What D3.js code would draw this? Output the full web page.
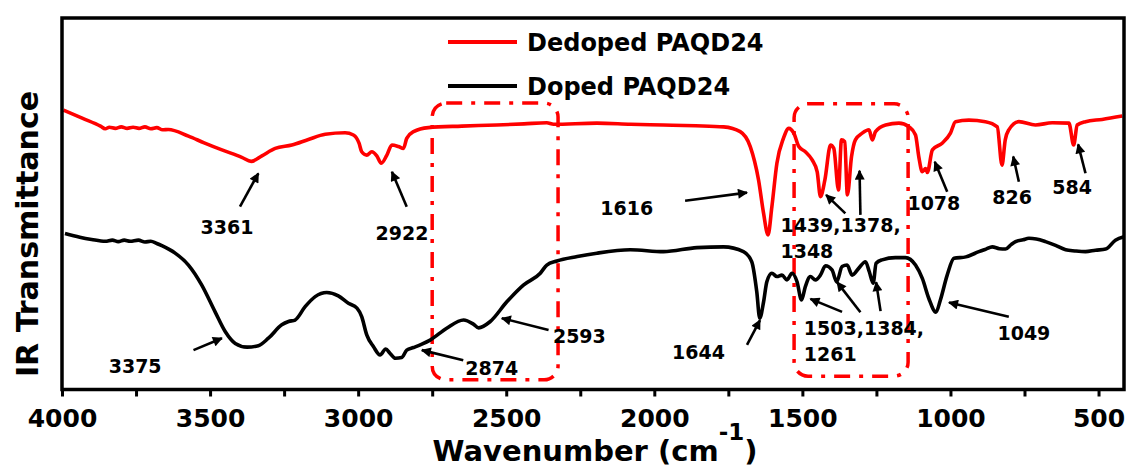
<!DOCTYPE html>
<html>
<head>
<meta charset="utf-8">
<script src="https://cdn.jsdelivr.net/npm/d3@7/dist/d3.min.js"></script>
<style>
  html, body { margin: 0; padding: 0; background: #fff; }
  svg { display: block; font-family: "DejaVu Sans", Verdana, sans-serif; font-weight: bold; }
</style>
</head>
<body>
<svg id="chart" width="1127" height="471"></svg>
<script>
// FTIR spectra: [wavenumber (cm-1), transmittance (a.u.)]
const dedoped = [
  [3995,75.2],[3930,73.0],[3870,70.9],[3854,70.2],[3840,70.6],[3820,70.3],[3800,70.7],[3780,70.3],
  [3760,70.6],[3740,70.3],[3720,70.7],[3700,70.2],[3680,70.5],[3660,69.9],[3641,70.0],[3573,68.2],
  [3520,66.4],[3460,64.5],[3393,62.5],[3361,61.4],[3325,62.9],[3280,64.9],[3224,65.8],[3168,67.3],
  [3111,68.7],[3044,69.1],[3016,68.5],[2997,66.3],[2988,64.0],[2971,63.1],[2954,64.0],[2937,62.9],
  [2922,60.9],[2903,63.1],[2886,65.8],[2864,65.4],[2847,64.9],[2836,67.6],[2813,69.4],[2763,70.5],
  [2650,70.9],[2532,71.2],[2440,71.5],[2363,71.8],[2340,71.4],[2194,71.7],[2080,71.4],[1969,71.2],
  [1860,71.0],[1766,70.7],[1710,69.4],[1676,65.4],[1648,56.4],[1631,47.4],[1616,41.6],[1603,49.2],
  [1586,60.9],[1564,67.6],[1546,70.3],[1529,69.0],[1512,65.4],[1490,64.0],[1467,61.8],[1450,58.6],
  [1439,51.9],[1424,56.4],[1405,65.8],[1394,64.9],[1378,53.7],[1368,67.2],[1357,66.7],[1348,52.4],
  [1334,62.7],[1321,67.2],[1298,69.0],[1275,69.9],[1264,67.2],[1253,69.4],[1219,71.2],[1174,71.7],
  [1140,70.7],[1118,68.5],[1107,62.7],[1095,58.6],[1084,59.5],[1078,58.4],[1061,64.5],[1028,66.3],
  [1000,69.0],[983,72.1],[938,72.5],[882,72.1],[842,70.7],[826,60.4],[815,67.2],[803,69.9],
  [769,72.1],[713,71.2],[656,71.8],[600,71.7],[584,65.8],[572,71.2],[544,72.1],[488,72.7],[420,73.6]
];

const doped = [
  [3990,42.0],[3940,41.0],[3900,40.4],[3854,39.9],[3830,40.2],[3810,39.8],[3790,40.2],[3770,39.9],
  [3742,40.2],[3720,39.7],[3700,39.9],[3680,39.3],[3663,38.7],[3618,36.7],[3573,33.5],[3528,28.1],
  [3483,20.9],[3449,15.6],[3415,12.4],[3375,11.4],[3337,11.8],[3303,13.8],[3258,17.4],[3235,18.3],
  [3213,18.7],[3179,22.3],[3145,25.0],[3106,26.1],[3067,25.2],[3033,23.2],[3004,21.9],[2988,19.6],
  [2971,14.7],[2948,11.5],[2926,9.3],[2907,10.9],[2892,9.7],[2874,8.4],[2853,8.6],[2836,10.6],
  [2813,11.3],[2785,12.2],[2757,13.3],[2701,16.5],[2644,18.7],[2611,17.6],[2593,16.6],[2554,18.3],
  [2498,23.6],[2442,28.1],[2385,31.3],[2363,33.5],[2329,34.6],[2260,35.8],[2194,36.7],[2081,37.6],
  [1969,37.1],[1856,38.2],[1766,38.4],[1699,37.1],[1671,34.4],[1654,26.3],[1644,19.2],[1631,23.6],
  [1620,29.0],[1603,31.3],[1586,30.4],[1569,30.8],[1552,29.5],[1535,31.3],[1518,29.0],[1503,24.1],
  [1490,27.7],[1473,30.4],[1456,29.5],[1439,30.8],[1422,33.3],[1400,32.2],[1384,29.0],[1366,33.1],
  [1349,33.5],[1332,30.8],[1310,32.6],[1287,34.4],[1274,31.7],[1261,28.6],[1251,34.0],[1231,34.9],
  [1186,35.5],[1152,35.5],[1118,33.5],[1095,29.9],[1073,24.5],[1049,20.8],[1034,24.1],[1011,30.8],
  [988,35.3],[948,35.7],[904,37.1],[880,37.8],[859,38.4],[835,37.9],[814,37.8],[795,39.0],
  [780,39.8],[755,40.3],[735,40.7],[710,40.5],[679,39.8],[645,38.8],[611,37.6],[580,37.3],
  [544,37.1],[510,37.5],[476,37.8],[443,40.2],[414,41.1]
];

const seriesNames = ["Dedoped PAQD24", "Doped PAQD24"];
const majorTicks = [4000, 3500, 3000, 2500, 2000, 1500, 1000, 500];
const minorTicks = [3750, 3250, 2750, 2250, 1750, 1250, 750];

// Peak labels: text anchor point, arrow tail, arrow head (wavenumber, transmittance)
const peakLabels = [
  { lines: ["3361"], at: [3443, 41.9], anchor: "middle", arrows: [[[3399, 49.2], [3337, 58.2]]] },
  { lines: ["2922"], at: [2852, 40.2], anchor: "middle", arrows: [[[2836, 49.2], [2886, 58.6]]] },
  { lines: ["1616"], at: [2093, 47.0], anchor: "middle", arrows: [[[1896, 50.8], [1687, 53.0]]] },
  { lines: ["1439,1378,", "1348"], at: [1574, 42.5], anchor: "start",
    arrows: [[[1355, 47.4], [1420, 52.4]], [[1304, 47.0], [1307, 58.9]]] },
  { lines: ["1078"], at: [1056, 48.3], anchor: "middle", arrows: [[[1011, 53.2], [1053, 61.3]]] },
  { lines: ["826"], at: [792, 49.9], anchor: "middle", arrows: [[[769, 55.9], [788, 62.7]]] },
  { lines: ["584"], at: [589, 52.5], anchor: "middle", arrows: [[[544, 58.2], [569, 66.0]]] },
  { lines: ["3375"], at: [3753, 4.4], anchor: "middle", arrows: [[[3556, 10.6], [3460, 13.8]]] },
  { lines: ["2874"], at: [2549, 3.9], anchor: "middle", arrows: [[[2645, 7.9], [2785, 10.6]]] },
  { lines: ["2593"], at: [2253, 12.4], anchor: "middle", arrows: [[[2357, 16.0], [2515, 19.2]]] },
  { lines: ["1644"], at: [1851, 8.1], anchor: "middle", arrows: [[[1687, 12.0], [1643, 18.7]]] },
  { lines: ["1503,1384,", "1261"], at: [1495, 14.7], anchor: "start",
    arrows: [[[1366, 20.9], [1473, 24.4]], [[1304, 20.8], [1383, 28.9]], [[1236, 21.1], [1251, 28.9]]] },
  { lines: ["1049"], at: [752, 13.3], anchor: "middle", arrows: [[[803, 19.6], [1005, 23.4]]] }
];

// Highlighted regions: [wavenumber from, wavenumber to, transmittance low, transmittance high]
const regions = [
  [2750, 2325, 2.6, 77.1],
  [1528, 1143, 3.6, 76.9]
];

const svg = d3.select("#chart");
const plot = { left: 62, right: 1124, top: 18, bottom: 389.5 };

const x = d3.scaleLinear().domain([4000, 414]).range([plot.left, plot.right]);
const y = d3.scaleLinear().domain([0, 100]).range([plot.bottom, plot.top]);

// arrowhead marker
svg.append("defs").append("marker")
  .attr("id", "arrowhead")
  .attr("viewBox", "0 0 10 10")
  .attr("refX", 9).attr("refY", 5)
  .attr("markerUnits", "userSpaceOnUse")
  .attr("markerWidth", 12).attr("markerHeight", 10)
  .attr("orient", "auto")
  .append("path").attr("d", "M0,0 L10,5 L0,10 Z").attr("fill", "#000");

// dash-dot highlight boxes
svg.append("g").selectAll("rect").data(regions).join("rect")
  .attr("x", d => x(d[0]))
  .attr("y", d => y(d[3]))
  .attr("width", d => x(d[1]) - x(d[0]))
  .attr("height", d => y(d[2]) - y(d[3]))
  .attr("rx", 14).attr("ry", 14)
  .attr("fill", "none")
  .attr("stroke", "#ff0000")
  .attr("stroke-width", 3.5)
  .attr("stroke-dasharray", "16,9,4,9");

// spectra
const line = d3.line().x(d => x(d[0])).y(d => y(d[1])).curve(d3.curveMonotoneX);
svg.append("path").datum(doped)
  .attr("d", line).attr("fill", "none").attr("stroke", "#000")
  .attr("stroke-width", 3.6).attr("stroke-linejoin", "round");
svg.append("path").datum(dedoped)
  .attr("d", line).attr("fill", "none").attr("stroke", "#ff0000")
  .attr("stroke-width", 3.6).attr("stroke-linejoin", "round");

// peak labels and arrows
const ann = svg.append("g");
peakLabels.forEach(p => {
  const t = ann.append("text")
    .attr("x", x(p.at[0])).attr("y", y(p.at[1]))
    .attr("text-anchor", p.anchor)
    .attr("font-size", 19).attr("fill", "#000");
  p.lines.forEach((s, i) => {
    t.append("tspan").attr("x", x(p.at[0])).attr("dy", i === 0 ? 0 : 26).text(s);
  });
  p.arrows.forEach(a => {
    ann.append("line")
      .attr("x1", x(a[0][0])).attr("y1", y(a[0][1]))
      .attr("x2", x(a[1][0])).attr("y2", y(a[1][1]))
      .attr("stroke", "#000").attr("stroke-width", 2.6)
      .attr("marker-end", "url(#arrowhead)");
  });
});

// frame
svg.append("rect")
  .attr("x", plot.left).attr("y", plot.top)
  .attr("width", plot.right - plot.left).attr("height", plot.bottom - plot.top)
  .attr("fill", "none").attr("stroke", "#000").attr("stroke-width", 3.5);

// bottom axis: major + minor ticks
const axisMajor = d3.axisBottom(x).tickValues(majorTicks).tickSize(7).tickPadding(13)
  .tickFormat(d3.format("d"));
const gMajor = svg.append("g").attr("transform", `translate(0,${plot.bottom})`).call(axisMajor);
gMajor.select(".domain").remove();
gMajor.selectAll(".tick line").attr("stroke", "#000").attr("stroke-width", 3);
gMajor.selectAll(".tick text")
  .attr("font-family", "DejaVu Sans, Verdana, sans-serif")
  .attr("font-weight", "bold").attr("font-size", 25).attr("fill", "#000");

const axisMinor = d3.axisBottom(x).tickValues(minorTicks).tickSize(7).tickFormat("");
const gMinor = svg.append("g").attr("transform", `translate(0,${plot.bottom})`).call(axisMinor);
gMinor.select(".domain").remove();
gMinor.selectAll(".tick line").attr("stroke", "#000").attr("stroke-width", 3);

// axis titles
const xt = svg.append("text")
  .attr("x", (plot.left + plot.right) / 2 + 2).attr("y", 461)
  .attr("text-anchor", "middle").attr("font-size", 29).attr("fill", "#000");
xt.append("tspan").text("Wavenumber (cm");
xt.append("tspan").attr("font-size", 23).attr("dy", -21).text("-1");
xt.append("tspan").attr("dy", 21).text(")");

svg.append("text")
  .attr("transform", "translate(38,234) rotate(-90)")
  .attr("text-anchor", "middle").attr("font-size", 30).attr("fill", "#000")
  .text("IR Transmittance");

// legend
const legend = svg.append("g");
const legendColors = ["#ff0000", "#000"];
seriesNames.forEach((name, i) => {
  const ly = 42 + i * 44;
  legend.append("line")
    .attr("x1", 448).attr("x2", 517).attr("y1", ly).attr("y2", ly)
    .attr("stroke", legendColors[i]).attr("stroke-width", 4);
  legend.append("text")
    .attr("x", 527).attr("y", ly + 9)
    .attr("font-size", 24).attr("fill", "#000")
    .text(name);
});
</script>
</body>
</html>
